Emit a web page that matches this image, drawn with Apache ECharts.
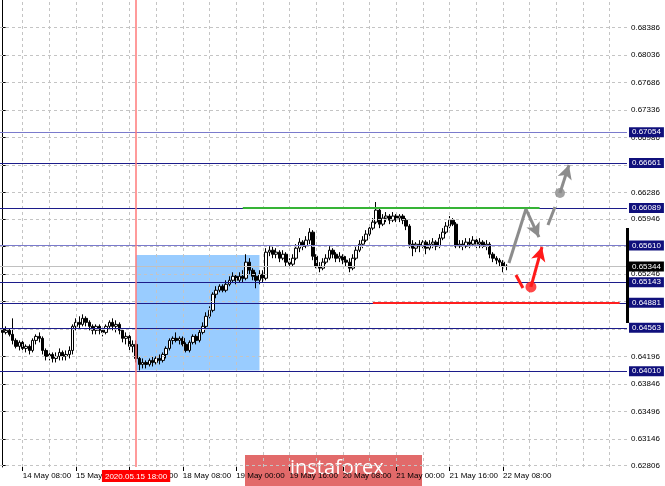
<!DOCTYPE html>
<html>
<head>
<meta charset="utf-8">
<script src="https://cdn.jsdelivr.net/npm/echarts@6/dist/echarts.min.js"></script>
<style>html,body{margin:0;padding:0;background:#fff}#c{width:665px;height:486px}</style>
</head>
<body>
<div id="c"></div>
<script>
// hourly sessions: [day, first hour, last hour]
const sessions = [['14 May',2,23],['15 May',0,23],['18 May',0,23],['19 May',0,23],['20 May',0,23],['21 May',0,23],['22 May',0,23],['25 May',0,21]];
const categories = [];
sessions.forEach(([d,a,b]) => { for (let h = a; h <= b; h++) categories.push(d + ' ' + String(h).padStart(2,'0') + ':00'); });

// time-axis extent (bar index), label positions and grid positions
const xMin = -0.8, xMax = 187.2;
const labelIdx = [6,22,38,54,70,86,102,118,134,150];
const gridIdx = [6,14,22,30,38,46,54,62,70,78,86,94,102,110,118,126,134,142,150,158,166,174,182];

// price-axis extent and tick labels
const yMin = 0.62789, yMax = 0.68739;
const yTicks = [0.68386,0.68036,0.67686,0.67336,0.66986,0.66636,0.66286,0.65946,0.65596,0.65246,0.64896,0.64546,0.64196,0.63846,0.63496,0.63146,0.62806];

// horizontal levels
const levels = [0.67054,0.66661,0.66089,0.65610,0.65143,0.64881,0.64563,0.64010];
const lightLevels = [0.67054,0.65610];
const currentPrice = 0.65344;
const axisBar = [0.65834,0.64624];

// candles [open, close, low, high]
const day14 = [
[0.64530,0.64504,0.64453,0.64581],[0.64504,0.64530,0.64479,0.64581],[0.64530,0.64479,0.64453,0.64556],[0.64479,0.64402,0.64351,0.64683],
[0.64402,0.64326,0.64300,0.64428],[0.64326,0.64377,0.64274,0.64402],[0.64377,0.64300,0.64249,0.64402],[0.64300,0.64326,0.64249,0.64351],
[0.64326,0.64274,0.64223,0.64351],[0.64274,0.64402,0.64249,0.64428],[0.64402,0.64453,0.64351,0.64479],[0.64453,0.64428,0.64377,0.64504],
[0.64428,0.64274,0.64223,0.64453],[0.64274,0.64198,0.64147,0.64300],[0.64198,0.64223,0.64147,0.64274],[0.64223,0.64172,0.64121,0.64249],
[0.64172,0.64198,0.64121,0.64249],[0.64198,0.64249,0.64147,0.64300],[0.64249,0.64198,0.64147,0.64274],[0.64198,0.64223,0.64147,0.64274],
[0.64223,0.64274,0.64172,0.64326],[0.64274,0.64581,0.64223,0.64606]
];
const day15 = [
[0.64581,0.64632,0.64530,0.64683],[0.64632,0.64606,0.64556,0.64709],[0.64606,0.64683,0.64581,0.64734],[0.64683,0.64632,0.64581,0.64709],
[0.64632,0.64581,0.64530,0.64658],[0.64581,0.64530,0.64479,0.64606],[0.64530,0.64581,0.64479,0.64606],[0.64581,0.64530,0.64479,0.64606],
[0.64530,0.64504,0.64453,0.64581],[0.64504,0.64581,0.64479,0.64606],[0.64581,0.64632,0.64556,0.64658],[0.64632,0.64581,0.64530,0.64683],
[0.64581,0.64606,0.64504,0.64658],[0.64606,0.64530,0.64479,0.64632],[0.64530,0.64428,0.64377,0.64556],[0.64428,0.64453,0.64351,0.64504],
[0.64453,0.64326,0.64274,0.64479],[0.64326,0.64351,0.64249,0.64402],[0.64351,0.64172,0.64121,0.64402],[0.64172,0.64096,0.64019,0.64198],
[0.64096,0.64121,0.64045,0.64172],[0.64121,0.64096,0.64045,0.64147],[0.64096,0.64147,0.64070,0.64172],[0.64147,0.64121,0.64070,0.64198]
];
const day18 = [
[0.64121,0.64172,0.64096,0.64198],[0.64172,0.64147,0.64096,0.64223],[0.64147,0.64223,0.64121,0.64249],[0.64223,0.64300,0.64172,0.64326],
[0.64300,0.64402,0.64274,0.64428],[0.64402,0.64428,0.64351,0.64453],[0.64428,0.64402,0.64377,0.64504],[0.64402,0.64428,0.64351,0.64453],
[0.64428,0.64351,0.64326,0.64453],[0.64351,0.64274,0.64249,0.64377],[0.64274,0.64377,0.64249,0.64402],[0.64377,0.64453,0.64351,0.64479],
[0.64453,0.64402,0.64351,0.64479],[0.64402,0.64504,0.64377,0.64556],[0.64504,0.64581,0.64479,0.64632],[0.64581,0.64709,0.64556,0.64760],
[0.64709,0.64785,0.64683,0.64836],[0.64785,0.64990,0.64760,0.65015],[0.64990,0.65041,0.64939,0.65092],[0.65041,0.65092,0.65015,0.65117],
[0.65092,0.65041,0.65015,0.65117],[0.65041,0.65117,0.65015,0.65168],[0.65117,0.65168,0.65092,0.65219],[0.65168,0.65219,0.65143,0.65270]
];
const day19 = [
[0.65219,0.65168,0.65117,0.65245],[0.65168,0.65219,0.65143,0.65270],[0.65219,0.65194,0.65143,0.65296],[0.65194,0.65399,0.65168,0.65500],
[0.65399,0.65296,0.65245,0.65449],[0.65296,0.65219,0.65168,0.65322],[0.65219,0.65168,0.65066,0.65270],[0.65168,0.65245,0.65117,0.65296],
[0.65245,0.65194,0.65143,0.65296],[0.65194,0.65526,0.65168,0.65577],[0.65526,0.65551,0.65475,0.65602],[0.65551,0.65500,0.65449,0.65602],
[0.65500,0.65526,0.65449,0.65577],[0.65526,0.65449,0.65399,0.65551],[0.65449,0.65500,0.65424,0.65551],[0.65500,0.65399,0.65347,0.65526],
[0.65399,0.65373,0.65322,0.65449],[0.65373,0.65449,0.65347,0.65500],[0.65449,0.65577,0.65424,0.65628],[0.65577,0.65654,0.65526,0.65705],
[0.65654,0.65602,0.65551,0.65679],[0.65602,0.65679,0.65577,0.65730],[0.65679,0.65781,0.65628,0.65832],[0.65781,0.65475,0.65424,0.65807]
];
const day20 = [
[0.65475,0.65347,0.65322,0.65500],[0.65347,0.65322,0.65270,0.65399],[0.65322,0.65399,0.65296,0.65449],[0.65399,0.65449,0.65373,0.65500],
[0.65449,0.65551,0.65424,0.65602],[0.65551,0.65500,0.65449,0.65577],[0.65500,0.65449,0.65399,0.65526],[0.65449,0.65475,0.65399,0.65526],
[0.65475,0.65424,0.65373,0.65500],[0.65424,0.65399,0.65347,0.65475],[0.65399,0.65322,0.65270,0.65449],[0.65322,0.65449,0.65296,0.65500],
[0.65449,0.65551,0.65424,0.65602],[0.65551,0.65628,0.65526,0.65679],[0.65628,0.65679,0.65577,0.65730],[0.65679,0.65756,0.65654,0.65807],
[0.65756,0.65832,0.65730,0.65883],[0.65832,0.65909,0.65807,0.65960],[0.65909,0.66062,0.65883,0.66165],[0.66062,0.65883,0.65832,0.66088],
[0.65883,0.65960,0.65858,0.66011],[0.65960,0.65986,0.65909,0.66037],[0.65986,0.65934,0.65883,0.66011],[0.65934,0.65986,0.65909,0.66037]
];
const day21 = [
[0.65986,0.65960,0.65909,0.66011],[0.65960,0.65986,0.65909,0.66011],[0.65986,0.65934,0.65883,0.66011],[0.65934,0.65858,0.65807,0.65960],
[0.65858,0.65628,0.65577,0.65883],[0.65628,0.65577,0.65475,0.65679],[0.65577,0.65628,0.65526,0.65654],[0.65628,0.65602,0.65526,0.65679],
[0.65602,0.65654,0.65577,0.65679],[0.65654,0.65577,0.65500,0.65679],[0.65577,0.65628,0.65551,0.65679],[0.65628,0.65654,0.65577,0.65705],
[0.65654,0.65602,0.65551,0.65679],[0.65602,0.65705,0.65577,0.65756],[0.65705,0.65781,0.65679,0.65832],[0.65781,0.65858,0.65756,0.65909],
[0.65858,0.65934,0.65832,0.65986],[0.65934,0.65883,0.65858,0.65960],[0.65883,0.65602,0.65577,0.65909],[0.65602,0.65628,0.65577,0.65679],
[0.65628,0.65602,0.65551,0.65679],[0.65602,0.65654,0.65577,0.65705],[0.65654,0.65628,0.65577,0.65705],[0.65628,0.65679,0.65602,0.65730]
];
const day22 = [
[0.65679,0.65628,0.65577,0.65705],[0.65628,0.65654,0.65577,0.65705],[0.65654,0.65602,0.65577,0.65679],[0.65602,0.65628,0.65551,0.65679],
[0.65628,0.65500,0.65449,0.65654],[0.65500,0.65449,0.65399,0.65526],[0.65449,0.65424,0.65373,0.65475],[0.65424,0.65399,0.65347,0.65449],
[0.65399,0.65347,0.65270,0.65424],[0.65347,0.65344,0.65296,0.65373]
];

// annotations: [bar index, price]
const rangeBox = [[40,0.65490],[77,0.64019]];
const greenLine = [[72,0.66089],[161,0.66089]];
const redLine = [[111,0.64881],[185,0.64881]];
const markerBar = 40;
const markerLabel = '2020.05.15 18:00';
const grayPath = [[151.8,0.65388],[156.9,0.66076],[160.8,0.65719]];
const grayDash = [[163.5,0.65872],[165.6,0.66102]];
const grayUp = [[167.1,0.66280],[169.8,0.66637]];
const grayDot = [[167.1,0.66280]];
const redSeg = [[153.9,0.65235],[156.0,0.65070]];
const redUp = [[158.4,0.65083],[161.7,0.65592]];
const redDot = [[158.4,0.65083]];
const anchor = [[0, currentPrice]]; // invisible host point for background layers

const candles = [].concat(day14, day15, day18, day19, day20, day21, day22).map((r, i) => [i].concat(r));

const FONT = 'Liberation Sans';
const EPS = 0.001;
const hLine = (v, lineStyle, label) => [
  {coord: [xMin + EPS, v], lineStyle: lineStyle, label: label || {show: false}},
  {coord: [xMax - EPS, v]}
];
const vLine = (v, lineStyle) => [
  {coord: [v, yMin + 1e-7], lineStyle: lineStyle},
  {coord: [v, yMax - 1e-7]}
];
const seg = (pts, color, width, arrow) => {
  const out = [];
  for (let k = 0; k < pts.length - 1; k++) {
    const last = k === pts.length - 2;
    out.push([
      {coord: pts[k], symbol: 'none', lineStyle: {color: color, width: width, type: 'solid'}},
      {coord: pts[k+1], symbol: (arrow && last) ? 'arrow' : 'none', symbolSize: [11, 14], itemStyle: {color: color}}
    ]);
  }
  return out;
};
const boxLabel = (txt, bg) => ({show: true, position: 'end', distance: 2, formatter: txt, backgroundColor: bg, color: '#fff',
  fontSize: 8, fontFamily: FONT, padding: [1, 3, 0, 3], lineHeight: 9});
const host = (z, extra) => Object.assign({type: 'scatter', data: anchor, symbolSize: 0, z: z, silent: true, itemStyle: {opacity: 0}}, extra);
const gridStyle = {color: '#c4c4c4', width: 1, type: [3, 3]};

const chart = echarts.init(document.getElementById('c'), null, {renderer: 'canvas'});
const option = {
  animation: false,
  backgroundColor: '#ffffff',
  textStyle: {fontFamily: FONT},
  grid: {left: 0, right: 38, top: 0, bottom: 19, containLabel: false},
  xAxis: {
    type: 'value', min: xMin, max: xMax,
    axisLine: {show: false},
    splitLine: {show: false},
    axisTick: {show: true, customValues: labelIdx, length: 4, lineStyle: {color: '#000'}},
    axisLabel: {show: true, customValues: labelIdx, formatter: v => categories[Math.round(v)],
      align: 'left', margin: 5, fontSize: 8, color: '#000', fontFamily: FONT}
  },
  yAxis: {
    type: 'value', position: 'right', min: yMin, max: yMax,
    axisLine: {show: true, lineStyle: {color: '#000', width: 1}},
    splitLine: {show: false},
    axisTick: {show: true, customValues: yTicks, length: 3, lineStyle: {color: '#000'}},
    axisLabel: {show: true, customValues: yTicks, formatter: v => v.toFixed(5), margin: 4, fontSize: 8, color: '#000', fontFamily: FONT}
  },
  graphic: [{
    type: 'group', left: 245, top: 455, z: 100,
    children: [
      {type: 'rect', shape: {x: 0, y: 0, width: 177, height: 31}, style: {fill: '#e26a6a'}},
      {type: 'text', x: 45, y: 3, style: {text: 'instaforex', fill: '#ffffff', font: '20px "Open Sans"'}}
    ]
  }],
  series: [
    host(1, {
      markArea: {silent: true, itemStyle: {color: '#99ccff'},
        data: [[{coord: rangeBox[0]}, {coord: rangeBox[1]}]]}
    }),
    host(2, {
      markLine: {silent: true, symbol: 'none', label: {show: false},
        data: gridIdx.map(v => vLine(v, gridStyle)).concat(yTicks.map(v => hLine(v, gridStyle)))}
    }),
    host(3, {
      markLine: {silent: true, symbol: 'none',
        data: [hLine(currentPrice, {color: '#c0c0c0', width: 1, type: 'solid'}, boxLabel(currentPrice.toFixed(5), '#000000'))]
          .concat(levels.map(v => hLine(v,
            {color: lightLevels.includes(v) ? '#7a7acc' : '#1c1c8a', width: 1, type: 'solid'},
            boxLabel(v.toFixed(5), '#10107c'))))
          .concat([[{coord: [xMax - EPS, axisBar[0]], lineStyle: {color: '#000', width: 3, type: 'solid'}}, {coord: [xMax - EPS, axisBar[1]]}]])}
    }),
    {
      type: 'candlestick', z: 4, data: candles, barWidth: 3,
      encode: {x: 0, y: [1, 2, 3, 4]},
      itemStyle: {color: '#ffffff', color0: '#000000', borderColor: '#000000', borderColor0: '#000000', borderWidth: 1}
    },
    {
      type: 'scatter', z: 5, data: grayDot, symbol: 'circle', symbolSize: 10,
      itemStyle: {color: '#8a8a8a'}, silent: true,
      markLine: {silent: true, symbol: 'none', label: {show: false},
        data: [
          [{coord: greenLine[0], lineStyle: {color: '#36b436', width: 2, type: 'solid'}}, {coord: greenLine[1]}],
          [{coord: redLine[0], lineStyle: {color: '#ff1f1f', width: 2, type: 'solid'}}, {coord: redLine[1]}],
          {xAxis: markerBar, lineStyle: {color: '#ff7a7a', width: 1.5, type: 'solid'},
            label: {show: true, position: 'start', distance: 3, formatter: markerLabel, backgroundColor: '#ff0000', color: '#fff', fontSize: 8, fontFamily: FONT, padding: [2, 3, 1, 3], lineHeight: 9}}
        ].concat(seg(grayPath, '#8c8c8c', 3, true), seg(grayDash, '#8c8c8c', 3, false), seg(grayUp, '#8c8c8c', 3, true),
                 seg(redSeg, '#ff1a1a', 3, false), seg(redUp, '#ff1a1a', 3, true))}
    },
    {
      type: 'scatter', z: 6, data: redDot, symbol: 'circle', symbolSize: 11,
      itemStyle: {color: '#ff1a1a'}, silent: true
    }
  ]
};
chart.setOption(option);
</script>
</body>
</html>
